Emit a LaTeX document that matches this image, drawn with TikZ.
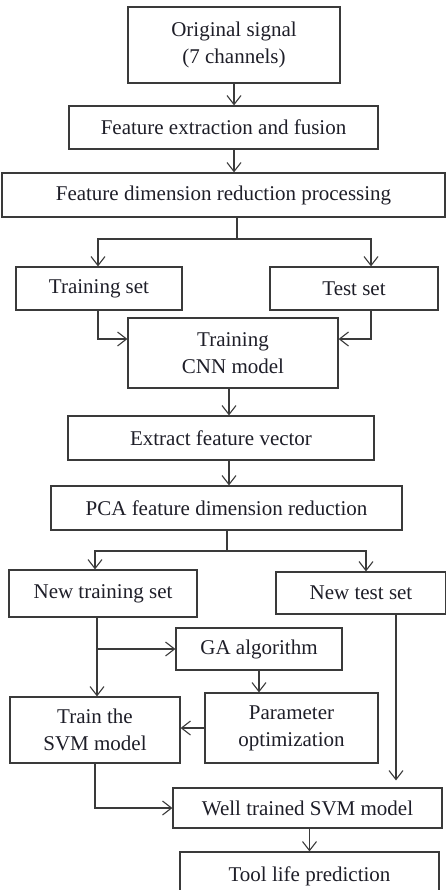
\documentclass[tikz,border=0pt]{standalone}
\usepackage{fontspec}
\setmainfont{Liberation Serif}
\usetikzlibrary{arrows.meta,calc}
\definecolor{linec}{HTML}{3A3A3A}
\definecolor{txtc}{HTML}{1E1E28}
\begin{document}
\begin{tikzpicture}[x=1pt,y=-1pt,
  box/.style={draw=linec, line width=1.2pt, rectangle, inner sep=0pt, align=center,
    font=\fontsize{21}{27}\selectfont, text=txtc},
  arr/.style={draw=linec, line width=1.1pt, -{Straight Barb[length=9pt,width=14pt,line width=1.1pt]}},
  ln/.style={draw=linec, line width=1.1pt}]
\useasboundingbox (0,0) rectangle (446,890);
% nodes
\node[box, minimum width=212pt, minimum height=76pt] (orig) at (234,45) {Original signal\\ (7 channels)};
\node[box, minimum width=309pt, minimum height=43pt] (feat) at (223.5,127.5) {Feature extraction and fusion};
\node[box, minimum width=443pt, minimum height=44pt] (dimred) at (223.5,195) {Feature dimension reduction processing};
\node[box, minimum width=166pt, minimum height=43pt] (train) at (99,288.5) {Training set};
\node[box, minimum width=168pt, minimum height=43pt] (test) at (354,288.5) {Test set};
\node[box, minimum width=210pt, minimum height=70pt] (cnn) at (233,353) {Training\\CNN model};
\node[box, minimum width=306pt, minimum height=44pt] (extract) at (221,438) {Extract feature vector};
\node[box, minimum width=351pt, minimum height=44pt] (pca) at (226.5,508) {PCA feature dimension reduction};
\node[box, minimum width=188pt, minimum height=47pt] (ntrain) at (103,593.5) {New training set};
\node[box, minimum width=170pt, minimum height=42pt] (ntest) at (361,593) {New test set};
\node[box, minimum width=166pt, minimum height=42pt] (ga) at (259,649) {GA algorithm};
\node[box, minimum width=173pt, minimum height=70pt] (param) at (291.5,728) {Parameter\\optimization};
\node[box, minimum width=170pt, minimum height=66pt] (svm) at (95,730) {Train the\\SVM model};
\node[box, minimum width=269pt, minimum height=40pt] (well) at (307.5,808) {Well trained SVM model};
\node[box, minimum width=259pt, minimum height=48pt] (tool) at (309.5,876) {Tool life prediction};
% connectors
\draw[arr] (orig.south) -- (feat.north -| orig.south);
\draw[arr] (feat.south -| orig.south) -- (dimred.north -| orig.south);
\coordinate (s1) at (237,239);
\coordinate (s1l) at (98,239);
\coordinate (s1r) at (371,239);
\draw[ln] (dimred.south -| s1) -- (s1);
\draw[arr] (s1) -- (s1l) -- (s1l |- train.north);
\draw[arr] (s1) -- (s1r) -- (s1r |- test.north);
\coordinate (tb) at (98,339);
\coordinate (teb) at (371,339);
\draw[arr] (train.south -| tb) -- (tb) -- (tb -| cnn.west);
\draw[arr] (test.south -| teb) -- (teb) -- (teb -| cnn.east);
\coordinate (c2) at (229,0);
\draw[arr] (cnn.south -| c2) -- (extract.north -| c2);
\draw[arr] (extract.south -| c2) -- (pca.north -| c2);
\coordinate (s2) at (227,551);
\coordinate (s2l) at (95,551);
\coordinate (s2r) at (366,551);
\draw[ln] (pca.south -| s2) -- (s2);
\draw[arr] (s2) -- (s2l) -- (s2l |- ntrain.north);
\draw[arr] (s2) -- (s2r) -- (s2r |- ntest.north);
\coordinate (v1) at (97,0);
\draw[arr] (ntrain.south -| v1) -- (svm.north -| v1);
\draw[arr] (ga.west -| v1) -- (ga.west);
\draw[arr] (ga.south) -- (param.north -| ga.south);
\draw[arr] (param.west) -- (param.west -| svm.east);
\coordinate (v2) at (396,0);
\draw[arr, shorten >=7pt] (ntest.south -| v2) -- (well.north -| v2);
\draw[arr] (svm.south) |- (well.west);
\draw[arr] (well.south -| tool.north) -- (tool.north);
\end{tikzpicture}
\end{document}
